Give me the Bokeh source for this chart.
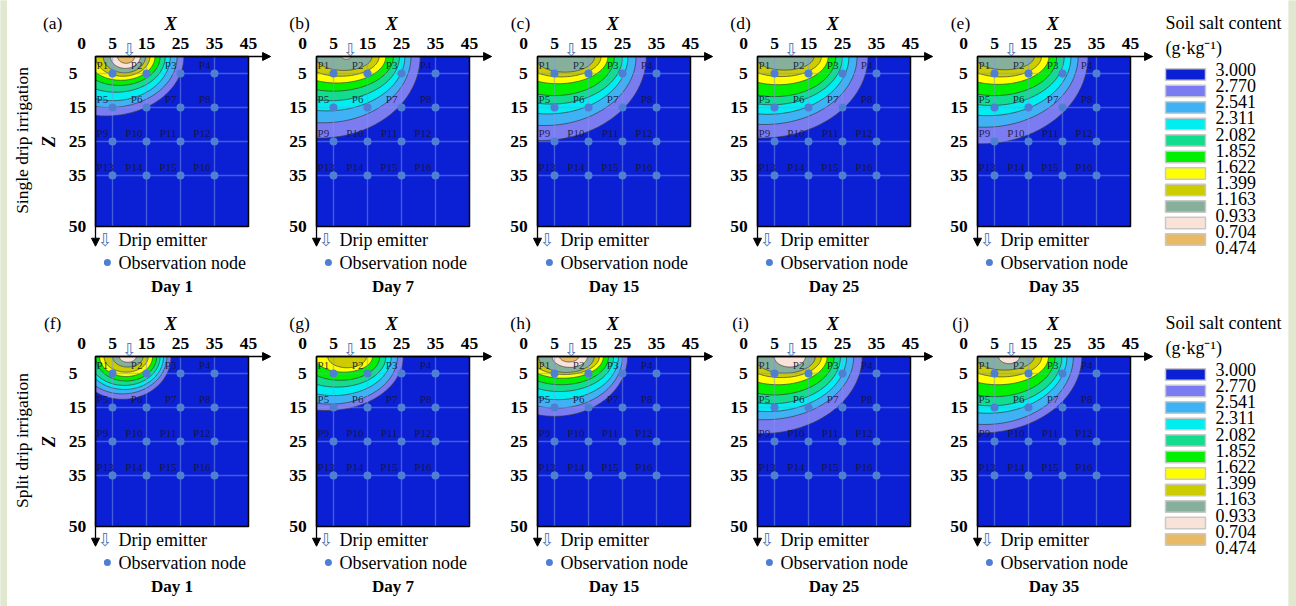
import numpy as np
from bokeh.plotting import figure
from bokeh.layouts import row, column
from bokeh.models import Range1d, Arrow, NormalHead
from bokeh.core.properties import value
from bokeh.embed import file_html
from bokeh.resources import INLINE

# ---------------- data ----------------
PANEL_LABELS = ["(a)", "(b)", "(c)", "(d)", "(e)", "(f)", "(g)", "(h)", "(i)", "(j)"]
DAYS = ["Day 1", "Day 7", "Day 15", "Day 25", "Day 35"]
ROW_TITLES = ["Single drip irrigation", "Split drip irrigation"]
X_TICKS = [5, 15, 25, 35, 45]
Z_TICKS = [5, 15, 25, 35, 50]
NODE_X = [5, 15, 25, 35]
NODE_Z = [5, 15, 25, 35]
EMITTER_X = 10
LEVEL_LABELS = ["3.000", "2.770", "2.541", "2.311", "2.082", "1.852",
                "1.622", "1.399", "1.163", "0.933", "0.704", "0.474"]
BAND_COLORS = ["#0b1fd4", "#7b7cf2", "#3fb2f6", "#00eef0", "#12dc8e", "#00f000",
               "#ffff00", "#cccc00", "#86b09c", "#f9e3d8", "#e8ba66"]

# contour extents per panel (cm): XR = reach along the surface, ZD = depth, CX = centre
XR_A = [26, 24, 22, 20.5, 19, 17.5, 16, 14.7, 13.2, 11.5]
ZD_A = [17.5, 15, 13, 10.5, 8.5, 7, 5.8, 4.8, 3.5, 2]
CX_A = [3, 4, 5, 6, 7, 7.5, 8, 8.5, 8.8, 9]

XR_B = [30.5, 27.8, 26, 24.4, 22.6, 20.4, 18.4, 16.3, 10.2]
ZD_B = [24, 19.5, 16, 13, 10.2, 7.8, 5.8, 4.1, 0.8]
CX_B = [1, 2, 3, 4, 5, 6, 7, 8, 8.8]

XR_C = [32, 29, 26.6, 25, 22.6, 20.7, 18.7, 16.8]
ZD_C = [24.7, 20.3, 16.9, 14, 11.5, 8, 6, 4.6]
CX_C = [1, 2, 3, 4, 5, 6, 7, 8]

XR_D = [32.5, 29.3, 26.9, 25, 23, 20.8, 18.8, 16.6]
ZD_D = [24, 20, 17, 14.2, 11.8, 8.3, 5.9, 4]
CX_D = [1, 2, 3, 4, 5, 6, 7, 8]

XR_E = [32.5, 29.6, 27.5, 25.5, 23.3, 21, 18.8, 16.7]
ZD_E = [25.7, 20.8, 17.4, 14.4, 11.5, 8.2, 6, 3.9]
CX_E = [1, 2, 3, 4, 5, 6, 7, 8]

XR_F = [22.2, 21, 20, 19, 18, 16.8, 15.5, 14, 12]
ZD_F = [12.6, 11, 9.7, 8.5, 7.2, 5.9, 4.6, 3.1, 1.7]
CX_F = [8, 8, 8.5, 8.5, 9, 9, 9, 9.5, 9.5]

XR_G = [25.5, 23.8, 22, 20.4, 18.6, 16.5, 14.7]
ZD_G = [15.9, 14, 11.5, 9, 7, 4.6, 3.3]
CX_G = [3, 4, 5, 6, 7, 8, 9]

XR_H = [26.5, 25, 23.8, 22.4, 20.9, 19.4, 18.2, 16.7, 14.7, 12.1]
ZD_H = [17.6, 15.2, 12.7, 10.3, 8.3, 6.4, 5.3, 4.7, 3.2, 1.6]
CX_H = [5, 5.5, 6, 6.5, 7, 7.5, 8, 8.5, 9.5, 9.3]

XR_I = [30.8, 28.3, 26.2, 24.4, 22.5, 20.5, 18.8, 17, 14.1]
ZD_I = [22.7, 18.6, 16.2, 13.9, 11.3, 8.3, 6.2, 4.9, 3.1]
CX_I = [1, 2, 3, 4, 5, 6, 7, 8, 9.5]

XR_J = [30.7, 28.2, 26.3, 24.8, 22.8, 20.9, 18.9, 16.7, 12.4]
ZD_J = [22.5, 20, 16.7, 14.5, 11.8, 8.3, 6, 4, 2.1]
CX_J = [1, 2, 3, 4, 5, 6, 7, 8, 9.3]

CONTOURS = [(XR_A, ZD_A, CX_A), (XR_B, ZD_B, CX_B), (XR_C, ZD_C, CX_C),
            (XR_D, ZD_D, CX_D), (XR_E, ZD_E, CX_E), (XR_F, ZD_F, CX_F),
            (XR_G, ZD_G, CX_G), (XR_H, ZD_H, CX_H), (XR_I, ZD_I, CX_I),
            (XR_J, ZD_J, CX_J)]

# ---------------- layout / style ----------------
PX = 3.4                      # pixels per cm
BOX_W, BOX_H = 45, 50
ROW_H = 300
BOX_TOP = 56
COL_WIDTHS = [279, 221, 220, 220, 215]
BOX_OFFSETS = [88, 30, 30, 30, 30]
LEG_W = 126
STRIP_COLOR = "#e0e8cf"
SERIF = value("Liberation Serif")
ARROWFONT = value("DejaVu Sans")
NODE_COLOR = "#4f7fd2"
EMIT_COLOR = "#5a7db8"


def base_fig(width, height, xr, yr):
    p = figure(width=width, height=height, x_range=xr, y_range=yr,
               output_backend="svg", toolbar_location=None, min_border=0,
               x_axis_location=None, y_axis_location=None,
               outline_line_color=None, background_fill_color="white",
               border_fill_color="white")
    p.grid.visible = False
    return p


def band_polygon(cx, xr, zd, n=90):
    rx = xr - cx
    th = np.linspace(0, np.pi, n)
    xs = np.clip(cx + rx * np.cos(th), 0, BOX_W)
    zs = np.clip(zd * np.sin(th), 0, BOX_H)
    return list(xs), list(zs)


def txt(p, x, y, t, size, style="normal", align="left", font=SERIF,
        color="black", angle=0.0, alpha=1.0):
    p.text(x=x, y=y, text=t, text_align=align, text_baseline="middle",
           text_font=font, text_font_style=style, text_font_size=size,
           text_color=color, angle=angle, text_alpha=alpha)


def make_panel(k, r, c):
    width, off = COL_WIDTHS[c], BOX_OFFSETS[c]
    x0 = -off / PX
    x1 = x0 + width / PX
    ztop = -BOX_TOP / PX
    zbot = ztop + ROW_H / PX
    p = base_fig(width, ROW_H, Range1d(x0, x1), Range1d(zbot, ztop))

    # background (highest salt band)
    p.quad(left=[0], right=[BOX_W], top=[0], bottom=[BOX_H],
           fill_color=BAND_COLORS[0], line_color=None)
    # contour bands
    xr_l, zd_l, cx_l = CONTOURS[k]
    xs, ys, cols = [], [], []
    for i, (xr, zd, cx) in enumerate(zip(xr_l, zd_l, cx_l)):
        bx, bz = band_polygon(cx, xr, zd)
        xs.append(bx)
        ys.append(bz)
        cols.append(BAND_COLORS[i + 1])
    p.patches(xs, ys, fill_color=cols, line_color="#3a3a3a", line_width=0.7)

    # grid lines through observation nodes
    p.segment(x0=NODE_X, y0=[0] * 4, x1=NODE_X, y1=[BOX_H] * 4,
              line_color="#7d98e6", line_alpha=0.5, line_width=1.4)
    p.segment(x0=[0] * 4, y0=NODE_Z, x1=[BOX_W] * 4, y1=NODE_Z,
              line_color="#7d98e6", line_alpha=0.5, line_width=1.4)

    # box border
    p.quad(left=[0], right=[BOX_W], top=[0], bottom=[BOX_H],
           fill_color=None, line_color="black", line_width=1.5)

    # nodes + labels
    nx = [x for z in NODE_Z for x in NODE_X]
    nz = [z for z in NODE_Z for x in NODE_X]
    names = ["P%d" % (i + 1) for i in range(16)]
    p.scatter(nx, nz, size=8, fill_color=NODE_COLOR, line_color=None)
    first = [i for i in range(16) if nx[i] == NODE_X[0]]
    rest = [i for i in range(16) if nx[i] != NODE_X[0]]
    txt(p, [0.3] * len(first), [nz[i] - 2.4 for i in first],
        [names[i] for i in first], "11px", align="left", color="#14143a", alpha=0.9)
    txt(p, [nx[i] - 1.2 for i in rest], [nz[i] - 2.4 for i in rest],
        [names[i] for i in rest], "11px", align="right", color="#14143a", alpha=0.9)

    # axes with arrows
    p.add_layout(Arrow(end=NormalHead(size=8, fill_color="black", line_color="black"),
                       x_start=0, y_start=0, x_end=51.5, y_end=0,
                       line_width=1.3, line_color="black"))
    p.add_layout(Arrow(end=NormalHead(size=8, fill_color="black", line_color="black"),
                       x_start=0, y_start=0, x_end=0, y_end=55.8,
                       line_width=1.3, line_color="black"))

    # tick labels
    txt(p, X_TICKS, [-3.8] * 5, [str(t) for t in X_TICKS], "17.5px", "bold", "center")
    if c == 0:
        txt(p, [-7.9] * 5, Z_TICKS, [str(t) for t in Z_TICKS], "17.5px", "bold", "left")
    else:
        txt(p, [-2.9] * 5, Z_TICKS, [str(t) for t in Z_TICKS], "17.5px", "bold", "right")
    txt(p, [-4.1], [-3.8], ["0"], "17.5px", "bold", "center")

    # axis titles
    txt(p, [22.1], [-9.7], ["X"], "18px", "bold italic", "center")
    if c == 0:
        txt(p, [-13.8], [25], ["Z"], "18px", "bold italic", "center", angle=np.pi / 2)
        txt(p, [-21.5], [24.7], [ROW_TITLES[r]], "17.5px", "normal", "center",
            angle=np.pi / 2)
        lx = -12.6
    else:
        lx = -5.0
    txt(p, [lx], [-10], [PANEL_LABELS[k]], "17.5px", "normal", "center")

    # emitter
    txt(p, [EMITTER_X], [-2.1], ["\u21e9"], "18px", "normal", "center",
        font=ARROWFONT, color=EMIT_COLOR)

    # in-panel legend
    txt(p, [2.9], [53.8], ["\u21e9"], "18px", "normal", "center",
        font=ARROWFONT, color=EMIT_COLOR)
    txt(p, [6.8], [54.0], ["Drip emitter"], "18px")
    p.scatter([3.5], [60.6], size=7, fill_color=NODE_COLOR, line_color=None)
    txt(p, [6.8], [60.6], ["Observation node"], "18px")

    # day title
    txt(p, [BOX_W / 2], [67.6], [DAYS[c]], "17px", "bold", "center")
    return p


def make_legend():
    p = base_fig(LEG_W, ROW_H, Range1d(0, LEG_W), Range1d(ROW_H, 0))
    txt(p, [3], [22], ["Soil salt content"], "18px")
    txt(p, [3], [47], ["(g\u00b7kg\u207b\u00b9)"], "18px")
    n = len(BAND_COLORS)
    idx = np.arange(n)
    p.quad(left=[3] * n, right=[43] * n, top=list(68.3 + 16.5 * idx),
           bottom=list(68.3 + 16.5 * idx + 11.5), fill_color=BAND_COLORS,
           line_color="#c8c8c8", line_width=1.5)
    m = len(LEVEL_LABELS)
    txt(p, [53] * m, list(68.7 + 16.2 * np.arange(m)), LEVEL_LABELS, "18px")
    return p


rows = []
for r in range(2):
    figs = [make_panel(r * 5 + c, r, c) for c in range(5)]
    figs.append(make_legend())
    rows.append(row(*figs))


def strip(w):
    s = figure(width=w, height=606, output_backend="svg", toolbar_location=None,
               min_border=0, x_axis_location=None, y_axis_location=None,
               outline_line_color=None, background_fill_color=STRIP_COLOR,
               border_fill_color=STRIP_COLOR, x_range=Range1d(0, 1),
               y_range=Range1d(0, 1))
    s.grid.visible = False
    s.quad(left=[0], right=[1], bottom=[0], top=[1], fill_color=STRIP_COLOR,
           line_color=None)
    return s


layout = row(strip(7), column(*rows), strip(8))
open("out.html", "w").write(file_html(layout, INLINE))
